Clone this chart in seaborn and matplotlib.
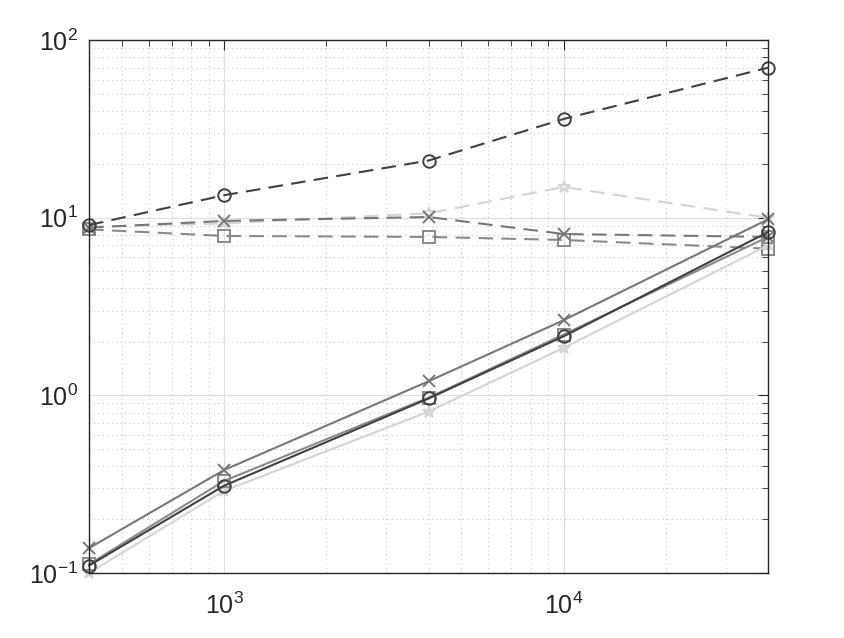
import numpy as np
import pandas as pd
import matplotlib
matplotlib.use("Agg")
import matplotlib.pyplot as plt
import matplotlib.ticker as mticker
import seaborn as sns

# problem sizes
n = [400, 1000, 4000, 10000, 40000]

# upper (dashed) series
o_dash = [9.1, 13.4, 21.0, 36.0, 70.0]
x_dash = [8.8, 9.6, 10.1, 8.1, 7.8]
sq_dash = [8.6, 7.9, 7.8, 7.5, 6.7]
st_dash = [8.9, 9.3, 10.6, 14.9, 10.0]

# lower (solid) series
o_solid = [0.11, 0.31, 0.96, 2.15, 8.3]
x_solid = [0.138, 0.38, 1.2, 2.65, 9.8]
sq_solid = [0.112, 0.33, 0.97, 2.2, 7.8]
st_solid = [0.1, 0.29, 0.81, 1.85, 7.0]

sns.set_style("white")
plt.rcParams['font.family'] = ['Liberation Sans', 'DejaVu Sans']

fig = plt.figure(figsize=(8.44, 6.38), dpi=100)
ax = fig.add_axes([0.1055, 0.102, 0.8045, 0.835])

dash = (0, (7, 4))
series = [
    (st_dash, '#d4d4d4', '*', dash),
    (sq_dash, '#8a8a8a', 's', dash),
    (x_dash, '#777777', 'x', dash),
    (o_dash, '#404040', 'o', dash),
    (st_solid, '#d4d4d4', '*', '-'),
    (sq_solid, '#8a8a8a', 's', '-'),
    (x_solid, '#777777', 'x', '-'),
    (o_solid, '#404040', 'o', '-'),
]
for vals, col, mk, ls in series:
    sns.lineplot(x=n, y=vals, ax=ax, color=col, marker=mk, markersize=9,
                 markerfacecolor='none', markeredgecolor=col, markeredgewidth=1.4,
                 linestyle=ls, linewidth=1.5, clip_on=False)

ax.set_xscale('log')
ax.set_yscale('log')
ax.set_xlim(400, 40000)
ax.set_ylim(0.1, 100)

ax.xaxis.set_major_locator(mticker.LogLocator(base=10, numticks=10))
ax.yaxis.set_major_locator(mticker.LogLocator(base=10, numticks=10))
ax.xaxis.set_minor_locator(mticker.LogLocator(base=10, subs=np.arange(2, 10), numticks=20))
ax.yaxis.set_minor_locator(mticker.LogLocator(base=10, subs=np.arange(2, 10), numticks=20))
ax.xaxis.set_minor_formatter(mticker.NullFormatter())
ax.yaxis.set_minor_formatter(mticker.NullFormatter())

ax.grid(True, which='major', color='#dedede', linestyle='-', linewidth=0.8)
ax.grid(True, which='minor', color='#c8c8c8', linestyle=(0, (1, 3)), linewidth=0.8)
ax.set_axisbelow(True)

ax.tick_params(which='both', direction='in', top=True, right=True, color='#262626')
ax.tick_params(which='major', length=7, labelsize=18)
ax.tick_params(axis='x', which='major', pad=14)
ax.tick_params(axis='y', which='major', pad=8)
ax.tick_params(which='minor', length=4)
for s in ax.spines.values():
    s.set_color('#262626')
    s.set_linewidth(1.0)
    s.set_visible(True)

fig.savefig('out.png', dpi=100)
